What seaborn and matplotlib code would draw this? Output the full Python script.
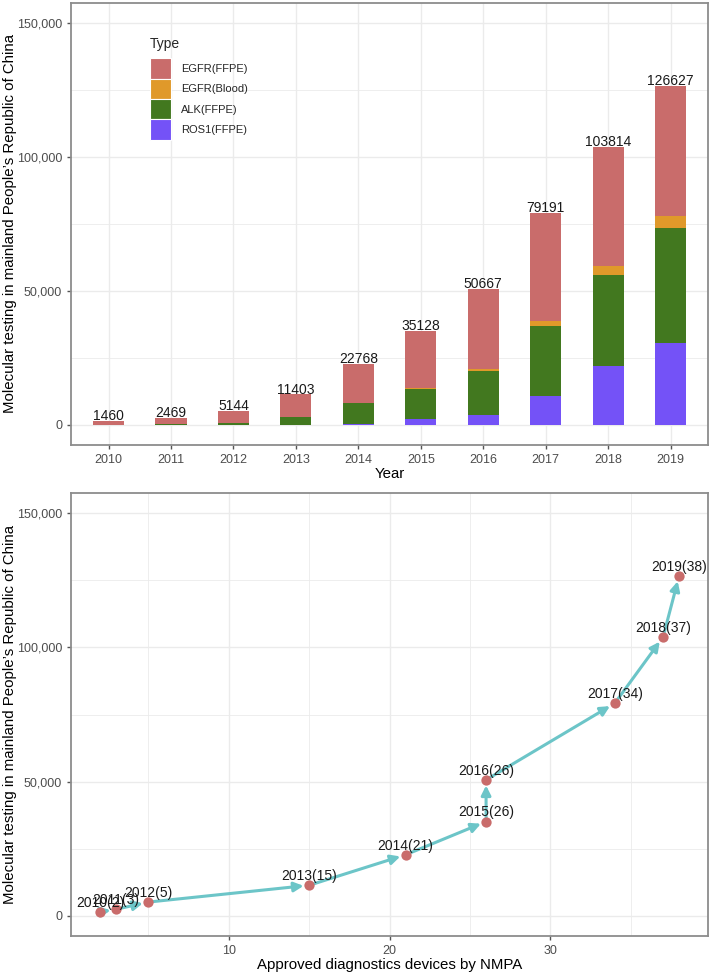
import matplotlib
matplotlib.use("Agg")
import matplotlib.pyplot as plt
import numpy as np
import pandas as pd
import seaborn as sns
from matplotlib.patches import Patch
from matplotlib.ticker import FuncFormatter, MultipleLocator


YEARS = ["2010", "2011", "2012", "2013", "2014", "2015", "2016", "2017", "2018", "2019"]
EGFR_FFPE = [1460, 2069, 4394, 8453, 14468, 21358, 29827, 40231, 44374, 48727]
EGFR_BLOOD = [0, 0, 0, 0, 0, 370, 860, 1860, 3350, 4300]
ALK_FFPE = [0, 400, 750, 2950, 8000, 11300, 16140, 26300, 34240, 43000]
ROS1_FFPE = [0, 0, 0, 0, 300, 2100, 3840, 10800, 21850, 30600]
TOTALS = [1460, 2469, 5144, 11403, 22768, 35128, 50667, 79191, 103814, 126627]
DEVICES = [2, 3, 5, 15, 21, 26, 26, 34, 37, 38]

TYPES = ["EGFR(FFPE)", "EGFR(Blood)", "ALK(FFPE)", "ROS1(FFPE)"]
TYPE_COLORS = {
    "EGFR(FFPE)": "#C96C6B",
    "EGFR(Blood)": "#E0992A",
    "ALK(FFPE)": "#42781F",
    "ROS1(FFPE)": "#7452F7",
}
POINT_COLOR = "#C96C6B"
ARROW_COLOR = "#6CC5C8"
GRID = "#EBEBEB"
BORDER = "#8C8C8C"
YLABEL = "Molecular testing in mainland People\u2019s Republic of China"


def style_axes(ax):
    ax.set_facecolor("white")
    for side in ax.spines.values():
        side.set_visible(True)
        side.set_color(BORDER)
        side.set_linewidth(1.3)
    ax.grid(True, which="major", color=GRID, linewidth=1.0)
    ax.grid(True, which="minor", axis="y", color=GRID, linewidth=0.6)
    ax.set_axisbelow(True)
    ax.tick_params(axis="both", which="major", length=3, width=1, color="#555555",
                   labelsize=9, labelcolor="#4D4D4D", bottom=True, left=True)
    ax.tick_params(axis="both", which="minor", length=0)
    ax.yaxis.set_major_locator(MultipleLocator(50000))
    ax.yaxis.set_minor_locator(MultipleLocator(25000))
    ax.yaxis.set_major_formatter(FuncFormatter(lambda v, _: f"{int(v):,}"))
    ax.set_ylim(-7500, 157500)
    ax.set_ylabel(YLABEL, fontsize=10.8, color="black", labelpad=0)


def plot_stacked_bars(ax):
    df = pd.DataFrame({
        "Year": YEARS,
        "EGFR(FFPE)": EGFR_FFPE,
        "EGFR(Blood)": EGFR_BLOOD,
        "ALK(FFPE)": ALK_FFPE,
        "ROS1(FFPE)": ROS1_FFPE,
    })
    # stack from the bottom: ROS1, ALK, EGFR(Blood), EGFR(FFPE)
    stack_order = ["ROS1(FFPE)", "ALK(FFPE)", "EGFR(Blood)", "EGFR(FFPE)"]
    cum = df[stack_order].cumsum(axis=1)
    for name in reversed(stack_order):
        sns.barplot(x=df["Year"], y=cum[name], color=TYPE_COLORS[name],
                    saturation=1, width=0.5, linewidth=0, ax=ax)

    for i, total in enumerate(TOTALS):
        ax.text(i, total + 300, str(total), ha="center", va="baseline",
                fontsize=10, color="#1A1A1A")

    style_axes(ax)
    ax.set_xlim(-0.6, 9.6)
    ax.set_xlabel("Year", fontsize=10.8, color="black", labelpad=1)

    handles = [Patch(facecolor=TYPE_COLORS[t], edgecolor="white", linewidth=0.8)
               for t in TYPES]
    leg = ax.legend(handles, TYPES, title="Type", loc="upper left",
                    bbox_to_anchor=(0.115, 0.935), frameon=False, fontsize=8,
                    title_fontsize=10, labelspacing=0.0, handlelength=1.9,
                    handleheight=2.45, handletextpad=0.9, borderpad=0,
                    alignment="left")
    leg._legend_box.sep = 5


def plot_trajectory(ax):
    df = pd.DataFrame({"Devices": DEVICES, "Total": TOTALS, "Year": YEARS})
    for i in range(len(df) - 1):
        ax.annotate("", xy=(df.Devices[i + 1], df.Total[i + 1]),
                    xytext=(df.Devices[i], df.Total[i]),
                    arrowprops=dict(arrowstyle="-|>", color=ARROW_COLOR, lw=2.2,
                                    mutation_scale=14, shrinkA=0, shrinkB=4),
                    zorder=2)
    sns.scatterplot(data=df, x="Devices", y="Total", color=POINT_COLOR, s=55,
                    linewidth=0, zorder=3, ax=ax)
    for _, row in df.iterrows():
        ax.annotate(f"{row.Year}({row.Devices})", (row.Devices, row.Total),
                    xytext=(0, 1.5), textcoords="offset points", ha="center",
                    va="bottom", fontsize=10, color="#1A1A1A", zorder=4)

    style_axes(ax)
    ax.xaxis.set_major_locator(MultipleLocator(10))
    ax.xaxis.set_minor_locator(MultipleLocator(5))
    ax.grid(True, which="minor", axis="x", color=GRID, linewidth=0.6)
    ax.set_xlim(0.2, 39.8)
    ax.set_xlabel("Approved diagnostics devices by NMPA", fontsize=10.8,
                  color="black", labelpad=1)


def main():
    sns.set_theme(style="white")
    plt.rcParams["font.family"] = ["Liberation Sans", "DejaVu Sans"]

    fig = plt.figure(figsize=(7.11, 9.72), dpi=100)
    ax_top = fig.add_axes([0.0999, 0.5422, 0.896, 0.4547])
    ax_bottom = fig.add_axes([0.0999, 0.0370, 0.896, 0.4558])

    plot_stacked_bars(ax_top)
    plot_trajectory(ax_bottom)

    fig.savefig("out.png", dpi=100, facecolor="white")
    plt.close(fig)


if __name__ == "__main__":
    main()
